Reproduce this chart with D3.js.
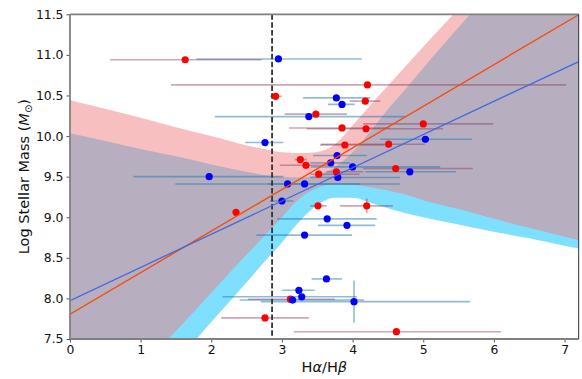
<!DOCTYPE html>
<html>
<head>
<meta charset="utf-8">
<script src="https://cdn.jsdelivr.net/npm/d3@7/dist/d3.min.js"></script>
<style>
  body { margin: 0; background: #fff; }
  svg { display: block; font-family: "DejaVu Sans", sans-serif; }
</style>
</head>
<body>
<svg id="chart" width="582" height="379"></svg>
<script>
// ---- red sample: Balmer decrement, stellar mass, asymmetric x errors ----
const redX    = [1.63, 4.21, 2.91, 4.18, 3.48, 3.85, 4.19, 5.00, 3.89, 4.51, 3.26, 3.34, 3.52, 3.77, 4.61, 3.51, 4.20, 2.35, 2.76, 4.62, 3.12];
const redY    = [10.94, 10.63, 10.49, 10.43, 10.27, 10.10, 10.09, 10.15, 9.89, 9.90, 9.71, 9.64, 9.53, 9.56, 9.60, 9.14, 9.14, 9.06, 7.76, 7.59, 7.99];
const redXErrLo = [1.06, 2.78, 0.08, 0.22, 0.44, 0.75, 0.84, 0.85, 0.35, 0.96, 0.08, 0.37, 0.12, 0.14, 0.46, 0.11, 0.38, 0, 0.62, 1.45, 0.60];
const redXErrHi = [1.08, 2.81, 0.09, 0.21, 0.44, 0.67, 1.09, 0.99, 0.56, 0.51, 0.09, 0.39, 0.58, 0.38, 1.09, 0.12, 0.37, 0, 0.62, 1.48, 0.63];
const redYErr   = [0, 0, 0, 0, 0, 0, 0, 0, 0, 0, 0, 0, 0, 0, 0, 0, 0.09, 0, 0, 0, 0];

// ---- blue sample ----
const blueX    = [2.95, 3.77, 3.85, 3.38, 2.76, 1.97, 3.08, 3.32, 3.78, 3.69, 4.00, 3.79, 5.03, 4.81, 3.00, 3.64, 3.92, 3.32, 3.63, 3.24, 3.28, 3.15, 4.02];
const blueY    = [10.95, 10.47, 10.39, 10.24, 9.92, 9.50, 9.41, 9.41, 9.76, 9.67, 9.62, 9.49, 9.96, 9.56, 9.20, 8.98, 8.90, 8.78, 8.24, 8.10, 8.02, 7.98, 7.96];
const blueXErrLo = [1.16, 0.47, 0.20, 1.33, 0.28, 1.07, 1.59, 0.52, 0.34, 0.29, 0.59, 0.39, 0.64, 0.63, 0.17, 0.71, 0.41, 0.68, 0.21, 0.24, 1.12, 0.75, 1.32];
const blueXErrHi = [1.18, 0.48, 0.18, 1.36, 0.26, 1.05, 1.59, 0.78, 0.42, 0.27, 1.24, 0.88, 0.66, 0.65, 0.16, 0.70, 0.40, 0.67, 0.22, 0.22, 0.78, 1.01, 1.64];
const blueYErr   = [0, 0, 0, 0, 0, 0, 0, 0, 0, 0, 0, 0, 0, 0, 0, 0, 0, 0, 0, 0, 0, 0, 0.26];

// ---- linear fits (intercept, slope) ----
const fitColors    = ["#ff4500", "#4169e1"];
const fitIntercept = [7.805, 7.973];
const fitSlope     = [0.5125, 0.409];

// ---- envelope bands around the fits, sampled on a common grid ----
const bandX     = [-0.1, 0, 0.5, 1.0, 1.5, 2.0, 2.5, 2.75, 3.0, 3.25, 3.5, 3.75, 4.0, 4.25, 4.5, 4.75, 5.0, 5.5, 6.0, 6.5, 7.0, 7.3];
const pinkUpper = [10.47, 10.445, 10.335, 10.225, 10.11, 10.0, 9.885, 9.84, 9.80, 9.79, 9.805, 9.90, 10.13, 10.38, 10.62, 10.86, 11.10, 11.57, 12.05, 12.5, 13.0, 13.3];
const pinkLower = [6.1, 6.2, 6.67, 7.14, 7.60, 8.07, 8.54, 8.77, 9.0, 9.23, 9.36, 9.41, 9.40, 9.37, 9.33, 9.28, 9.21, 9.10, 8.98, 8.87, 8.76, 8.70];
const cyanUpper = [10.055, 10.035, 9.94, 9.84, 9.75, 9.65, 9.56, 9.52, 9.50, 9.49, 9.52, 9.62, 9.80, 10.06, 10.33, 10.58, 10.84, 11.34, 11.84, 12.34, 12.84, 13.1];
const cyanLower = [5.64, 5.74, 6.23, 6.72, 7.21, 7.71, 8.20, 8.45, 8.69, 8.95, 9.15, 9.24, 9.24, 9.18, 9.11, 9.05, 9.00, 8.91, 8.82, 8.74, 8.65, 8.60];

const dustLineX = 2.86;

const xTicks = [0, 1, 2, 3, 4, 5, 6, 7];
const yTicks = [7.5, 8.0, 8.5, 9.0, 9.5, 10.0, 10.5, 11.0, 11.5];

// ---- layout ----
const W = 582, H = 379;
const plot = { left: 70, right: 578.7, top: 14.3, bottom: 339 };

const x = d3.scaleLinear().domain([0, 7.2]).range([plot.left, plot.right]);
const y = d3.scaleLinear().domain([7.5, 11.5]).range([plot.bottom, plot.top]);

const svg = d3.select("#chart");

svg.append("defs").append("clipPath").attr("id", "plotClip")
  .append("rect")
  .attr("x", plot.left).attr("y", plot.top)
  .attr("width", plot.right - plot.left).attr("height", plot.bottom - plot.top);

const g = svg.append("g").attr("clip-path", "url(#plotClip)");

// bands
function band(upper, lower) {
  return d3.area()
    .x((d, i) => x(bandX[i]))
    .y0((d, i) => y(lower[i]))
    .y1((d, i) => y(upper[i]))
    .curve(d3.curveMonotoneX)(bandX);
}
g.append("path").attr("d", band(cyanUpper, cyanLower))
  .attr("fill", "deepskyblue").attr("fill-opacity", 0.5);
g.append("path").attr("d", band(pinkUpper, pinkLower))
  .attr("fill", "lightcoral").attr("fill-opacity", 0.5);

// error bars
function errorBars(xs, ys, lo, hi, ye, color, opacity) {
  const eg = g.append("g").attr("stroke", color).attr("stroke-opacity", opacity).attr("stroke-width", 1.6);
  xs.forEach((xv, i) => {
    if (lo[i] > 0 || hi[i] > 0) {
      eg.append("line")
        .attr("x1", x(xv - lo[i])).attr("x2", x(xv + hi[i]))
        .attr("y1", y(ys[i])).attr("y2", y(ys[i]));
    }
    if (ye[i] > 0) {
      eg.append("line")
        .attr("x1", x(xv)).attr("x2", x(xv))
        .attr("y1", y(ys[i] - ye[i])).attr("y2", y(ys[i] + ye[i]));
    }
  });
}
errorBars(blueX, blueY, blueXErrLo, blueXErrHi, blueYErr, "#1f77b4", 0.5);
errorBars(redX, redY, redXErrLo, redXErrHi, redYErr, "#8b3a5a", 0.45);

// reference line
g.append("line")
  .attr("x1", x(dustLineX)).attr("x2", x(dustLineX))
  .attr("y1", plot.top).attr("y2", plot.bottom)
  .attr("stroke", "#333").attr("stroke-width", 1.8)
  .attr("stroke-dasharray", "5.5,2.4");

// points
g.append("g").selectAll("circle").data(redX).join("circle")
  .attr("cx", d => x(d)).attr("cy", (d, i) => y(redY[i])).attr("r", 3.6).attr("fill", "#ff0000");
g.append("g").selectAll("circle").data(blueX).join("circle")
  .attr("cx", d => x(d)).attr("cy", (d, i) => y(blueY[i])).attr("r", 3.6).attr("fill", "#0000ff");

// fit lines
fitColors.forEach((c, i) => {
  g.append("line")
    .attr("x1", x(0)).attr("y1", y(fitIntercept[i]))
    .attr("x2", x(7.2)).attr("y2", y(fitIntercept[i] + fitSlope[i] * 7.2))
    .attr("stroke", c).attr("stroke-width", 1.3);
});

// axes
const xAxis = svg.append("g").attr("transform", `translate(0,${plot.bottom})`)
  .call(d3.axisBottom(x).tickValues(xTicks).tickFormat(d3.format("d")).tickSize(3.5).tickPadding(3));
const yAxis = svg.append("g").attr("transform", `translate(${plot.left},0)`)
  .call(d3.axisLeft(y).tickValues(yTicks).tickFormat(d3.format(".1f")).tickSize(3.5).tickPadding(3));
[xAxis, yAxis].forEach(a => {
  a.select(".domain").remove();
  a.selectAll(".tick line").attr("stroke", "#555").attr("stroke-width", 1);
  a.selectAll(".tick text").attr("font-size", 12.4).attr("fill", "#111")
    .attr("font-family", "DejaVu Sans");
});

// frame
const frame = svg.append("g").attr("fill", "none");
frame.append("line").attr("x1", plot.left).attr("x2", plot.right).attr("y1", plot.top).attr("y2", plot.top)
  .attr("stroke", "#808080").attr("stroke-width", 1.8);
frame.append("line").attr("x1", plot.left).attr("x2", plot.right).attr("y1", plot.bottom).attr("y2", plot.bottom)
  .attr("stroke", "#808080").attr("stroke-width", 1.8);
frame.append("line").attr("x1", plot.left).attr("x2", plot.left).attr("y1", plot.top).attr("y2", plot.bottom)
  .attr("stroke", "#808080").attr("stroke-width", 1.8);
frame.append("line").attr("x1", plot.right).attr("x2", plot.right).attr("y1", plot.top).attr("y2", plot.bottom)
  .attr("stroke", "#333").attr("stroke-width", 1);

// axis labels
const xl = svg.append("text").attr("x", (plot.left + plot.right) / 2).attr("y", 372)
  .attr("text-anchor", "middle").attr("font-size", 14.5).attr("fill", "#111");
xl.append("tspan").text("H");
xl.append("tspan").attr("font-style", "italic").text("α");
xl.append("tspan").text("/H");
xl.append("tspan").attr("font-style", "italic").text("β");

const yl = svg.append("text")
  .attr("transform", `translate(28.5,${(plot.top + plot.bottom) / 2}) rotate(-90)`)
  .attr("text-anchor", "middle").attr("font-size", 14.5).attr("fill", "#111");
yl.append("tspan").text("Log Stellar Mass (");
yl.append("tspan").attr("font-style", "italic").text("M");
yl.append("tspan").attr("font-size", 10).attr("dy", 3).text("⊙");
yl.append("tspan").attr("dy", -3).text(")");
</script>
</body>
</html>
